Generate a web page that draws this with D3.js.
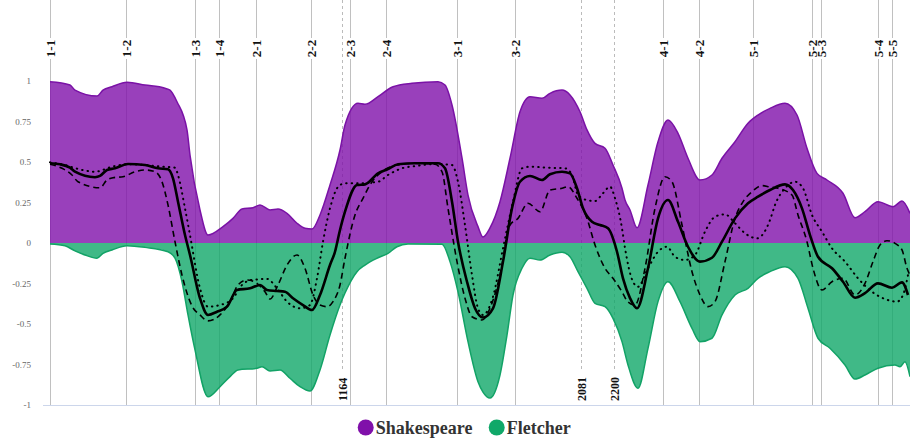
<!DOCTYPE html>
<html>
<head>
<meta charset="utf-8">
<script src="https://cdnjs.cloudflare.com/ajax/libs/d3/7.8.5/d3.min.js"></script>
<style>
  body { margin: 0; background: #fff; }
</style>
</head>
<body>
<div id="chart"></div>
<script>
//data: [position in text, value]
const shakespeare = [[0,0.995],[20,0.975],[25,0.944],[47,0.907],[53,0.944],[62,0.965],[77,0.992],[95,0.975],[115,0.955],[120,0.944],[127,0.872],[137,0.698],[140,0.543],[150,0.204],[158,0.049],[173,0.101],[183,0.152],[192,0.21],[203,0.218],[210,0.235],[220,0.204],[228,0.21],[237,0.183],[247,0.122],[255,0.091],[262,0.086],[270,0.173],[280,0.358],[290,0.574],[295,0.728],[308,0.862],[315,0.856],[328,0.903],[343,0.965],[362,0.986],[388,0.996],[395,0.975],[402,0.852],[412,0.525],[418,0.296],[428,0.101],[433,0.037],[440,0.093],[450,0.255],[460,0.523],[470,0.81],[480,0.903],[492,0.893],[500,0.924],[512,0.944],[520,0.914],[530,0.81],[537,0.698],[545,0.615],[555,0.585],[563,0.481],[572,0.338],[575,0.265],[580,0.204],[587,0.094],[598,0.358],[608,0.625],[618,0.759],[628,0.677],[638,0.523],[650,0.389],[662,0.42],[672,0.523],[685,0.625],[698,0.739],[708,0.79],[720,0.831],[735,0.862],[747,0.79],[757,0.585],[767,0.43],[777,0.389],[793,0.307],[805,0.156],[815,0.193],[828,0.255],[843,0.224],[852,0.259],[860,0.183]];

const fletcher = [[0,-0.006],[15,-0.017],[25,-0.049],[35,-0.074],[47,-0.094],[53,-0.064],[62,-0.043],[77,-0.017],[95,-0.027],[118,-0.054],[125,-0.094],[132,-0.239],[138,-0.444],[145,-0.66],[158,-0.949],[170,-0.887],[180,-0.825],[188,-0.784],[207,-0.773],[212,-0.764],[220,-0.79],[230,-0.784],[240,-0.835],[250,-0.887],[260,-0.914],[270,-0.784],[280,-0.568],[290,-0.383],[295,-0.309],[307,-0.177],[315,-0.136],[328,-0.091],[338,-0.064],[347,-0.023],[358,-0.006],[392,-0.008],[400,-0.115],[408,-0.301],[418,-0.609],[428,-0.856],[433,-0.92],[440,-0.957],[450,-0.815],[457,-0.568],[463,-0.321],[472,-0.156],[480,-0.094],[490,-0.105],[500,-0.074],[512,-0.057],[520,-0.085],[528,-0.177],[537,-0.28],[545,-0.372],[555,-0.393],[563,-0.465],[572,-0.609],[578,-0.753],[588,-0.897],[598,-0.65],[608,-0.362],[618,-0.239],[630,-0.362],[642,-0.527],[650,-0.609],[662,-0.588],[672,-0.444],[685,-0.321],[698,-0.28],[708,-0.218],[720,-0.177],[735,-0.146],[748,-0.218],[758,-0.403],[768,-0.588],[780,-0.65],[795,-0.753],[805,-0.84],[815,-0.815],[828,-0.773],[845,-0.753],[850,-0.764],[855,-0.733],[860,-0.825]];

const solid = [[0,0.492],[10,0.486],[20,0.465],[25,0.44],[45,0.406],[50,0.414],[57,0.451],[65,0.461],[78,0.488],[95,0.481],[108,0.461],[118,0.455],[123,0.399],[128,0.255],[135,0.049],[140,-0.074],[150,-0.341],[158,-0.444],[167,-0.424],[177,-0.393],[187,-0.29],[200,-0.28],[210,-0.259],[217,-0.29],[227,-0.296],[235,-0.301],[243,-0.341],[253,-0.383],[262,-0.414],[270,-0.321],[280,-0.136],[285,-0.054],[290,0.08],[295,0.193],[307,0.358],[315,0.362],[328,0.43],[338,0.457],[348,0.486],[365,0.492],[388,0.492],[395,0.461],[402,0.255],[408,0.008],[417,-0.239],[425,-0.403],[433,-0.46],[443,-0.403],[453,-0.115],[462,0.214],[470,0.378],[480,0.414],[492,0.389],[500,0.424],[512,0.44],[520,0.43],[527,0.338],[533,0.214],[542,0.131],[550,0.111],[558,0.091],[567,-0.054],[573,-0.218],[580,-0.34],[587,-0.403],[598,-0.156],[608,0.152],[618,0.265],[628,0.131],[638,-0.023],[650,-0.115],[662,-0.091],[672,0.008],[685,0.152],[698,0.245],[708,0.286],[720,0.327],[735,0.362],[743,0.327],[752,0.214],[760,0.049],[768,-0.085],[782,-0.156],[793,-0.239],[805,-0.338],[815,-0.31],[828,-0.249],[842,-0.276],[852,-0.243],[858,-0.321]];

const dashed = [[0,0.486],[12,0.461],[22,0.42],[28,0.378],[50,0.341],[57,0.389],[63,0.403],[73,0.409],[85,0.44],[95,0.451],[105,0.44],[112,0.378],[118,0.235],[125,0.008],[132,-0.198],[142,-0.389],[150,-0.444],[158,-0.481],[170,-0.444],[180,-0.362],[188,-0.259],[197,-0.228],[207,-0.249],[215,-0.301],[220,-0.346],[228,-0.259],[237,-0.136],[247,-0.074],[255,-0.156],[263,-0.321],[270,-0.383],[277,-0.393],[283,-0.362],[290,-0.259],[295,-0.094],[305,0.173],[313,0.276],[322,0.378],[332,0.44],[347,0.481],[365,0.492],[385,0.486],[392,0.44],[398,0.214],[407,-0.115],[415,-0.341],[422,-0.455],[432,-0.475],[440,-0.403],[450,-0.198],[460,0.111],[468,0.152],[478,0.245],[490,0.193],[500,0.327],[512,0.338],[518,0.348],[527,0.276],[537,0.152],[545,-0.012],[555,-0.156],[563,-0.218],[572,-0.301],[578,-0.364],[585,-0.383],[595,-0.156],[605,0.214],[615,0.409],[622,0.378],[632,0.111],[642,-0.177],[650,-0.321],[658,-0.393],[665,-0.362],[675,-0.115],[685,0.152],[692,0.245],[702,0.317],[712,0.354],[720,0.346],[728,0.338],[742,0.296],[748,0.173],[757,0.008],[763,-0.156],[772,-0.29],[782,-0.239],[793,-0.218],[805,-0.321],[815,-0.249],[823,-0.115],[830,-0.012],[837,0.014],[845,-0.002],[852,-0.043],[857,-0.156],[860,-0.198]];

const dotted = [[0,0.498],[15,0.481],[28,0.457],[45,0.44],[62,0.471],[78,0.486],[95,0.481],[112,0.471],[125,0.465],[128,0.42],[135,0.214],[140,0.049],[150,-0.28],[158,-0.393],[170,-0.383],[183,-0.341],[192,-0.259],[202,-0.228],[217,-0.222],[227,-0.28],[237,-0.362],[250,-0.403],[260,-0.383],[267,-0.218],[273,0.008],[280,0.214],[288,0.346],[295,0.369],[308,0.369],[328,0.378],[338,0.42],[352,0.461],[368,0.477],[385,0.488],[402,0.481],[408,0.378],[415,0.111],[422,-0.198],[428,-0.403],[433,-0.444],[443,-0.331],[453,-0.033],[463,0.255],[472,0.461],[480,0.471],[497,0.465],[515,0.461],[522,0.42],[528,0.296],[537,0.265],[545,0.259],[553,0.307],[560,0.348],[565,0.276],[572,0.091],[575,-0.031],[583,-0.239],[588,-0.27],[598,-0.156],[608,-0.054],[617,-0.023],[625,-0.085],[635,-0.105],[645,-0.074],[655,0.07],[665,0.162],[675,0.177],[685,0.122],[695,0.06],[707,0.029],[715,0.074],[720,0.142],[725,0.235],[735,0.338],[745,0.378],[753,0.338],[762,0.173],[772,0.07],[782,-0.033],[795,-0.115],[808,-0.218],[822,-0.301],[835,-0.346],[847,-0.362],[853,-0.321],[858,-0.198]];

//scenes and marked lines
const sceneNames = ['1-1','1-2','1-3','1-4','2-1','2-2','2-3','2-4','3-1','3-2','4-1','4-2','5-1','5-2','5-3','5-4','5-5'];
const scenePos = [0.3,76.3,144.7,169,205.7,261.3,300.3,336,407.3,465,612.7,649.3,703.3,762,771.3,828.3,841.7];
const markNames = ['1164','2081','2200'];
const markPos = [292,530.5,564.3];
const yTicks = [1,0.75,0.5,0.25,0,-0.25,-0.5,-0.75,-1];

//set variables
const w = 910;
const h = 442;
const plotLeft = 50;
const plotRight = 910;
const plotTop = 81;
const plotBottom = 405;

const purple = '#8010aa';
const green = '#10a869';

const xScale = d3.scaleLinear().domain([0, 860]).range([plotLeft, plotRight]);
const yScale = d3.scaleLinear().domain([-1, 1]).range([plotBottom, plotTop]);

const svg = d3.select('#chart')
    .append('svg')
    .attr('width', w)
    .attr('height', h)
    .style('font-family', '"Liberation Serif", serif');

//y axis labels and bottom line
const yAxis = d3.axisLeft(yScale).tickValues(yTicks).tickSize(0).tickPadding(0)
    .tickFormat(d => d === 0 ? '0' : String(d));
const ya = svg.append('g')
    .attr('transform', 'translate(31,0)')
    .call(yAxis);
ya.select('.domain').remove();
ya.selectAll('text')
    .style('font-family', '"Liberation Serif", serif')
    .style('font-size', '9px')
    .attr('fill', '#666');

svg.append('line')
    .attr('x1', 43).attr('x2', plotRight)
    .attr('y1', plotBottom + 0.5).attr('y2', plotBottom + 0.5)
    .attr('stroke', '#ccd6eb');

//scene lines
scenePos.forEach((p, i) => {
    const x = Math.round(xScale(p)) + 0.5;
    svg.append('line').attr('x1', x).attr('x2', x).attr('y1', 0).attr('y2', 38)
        .attr('stroke', '#c0c0c0');
    svg.append('line').attr('x1', x).attr('x2', x).attr('y1', 59).attr('y2', plotBottom)
        .attr('stroke', '#c0c0c0');
    svg.append('text')
        .attr('transform', `translate(${x + 4.5},48.5) rotate(-90)`)
        .attr('text-anchor', 'middle')
        .style('font-size', '13px')
        .style('font-weight', 'bold')
        .attr('fill', '#111')
        .text(sceneNames[i]);
});

//marked line numbers
markPos.forEach((p, i) => {
    const x = Math.round(xScale(p)) + 0.5;
    svg.append('line').attr('x1', x).attr('x2', x).attr('y1', 0).attr('y2', 372)
        .attr('stroke', '#bbb')
        .attr('stroke-dasharray', '3,3');
    svg.append('text')
        .attr('transform', `translate(${x + 4},401) rotate(-90)`)
        .attr('text-anchor', 'start')
        .style('font-size', '12px')
        .style('font-weight', 'bold')
        .attr('fill', '#111')
        .text(markNames[i]);
});

//areas
const area = d3.area().x(d => xScale(d[0])).y0(yScale(0)).y1(d => yScale(d[1])).curve(d3.curveMonotoneX);
const edge = d3.line().x(d => xScale(d[0])).y(d => yScale(d[1])).curve(d3.curveMonotoneX);

svg.append('path').datum(shakespeare).attr('d', area)
    .attr('fill', purple).attr('fill-opacity', 0.8);
svg.append('path').datum(fletcher).attr('d', area)
    .attr('fill', green).attr('fill-opacity', 0.8);
svg.append('path').datum(shakespeare).attr('d', edge)
    .attr('fill', 'none').attr('stroke', '#7a12a6').attr('stroke-width', 1.5);
svg.append('path').datum(fletcher).attr('d', edge)
    .attr('fill', 'none').attr('stroke', '#12a266').attr('stroke-width', 1.5);

//black lines
svg.append('path').datum(dotted).attr('d', edge)
    .attr('fill', 'none').attr('stroke', '#000').attr('stroke-width', 2)
    .attr('stroke-linecap', 'round').attr('stroke-dasharray', '0.5,5');
svg.append('path').datum(dashed).attr('d', edge)
    .attr('fill', 'none').attr('stroke', '#000').attr('stroke-width', 1.6)
    .attr('stroke-dasharray', '6,4');
svg.append('path').datum(solid).attr('d', edge)
    .attr('fill', 'none').attr('stroke', '#000').attr('stroke-width', 2.6)
    .attr('stroke-linejoin', 'round');

//legend
const legend = [['Shakespeare', purple, 365.7], ['Fletcher', green, 496.7]];
legend.forEach(l => {
    svg.append('circle').attr('cx', l[2]).attr('cy', 427.5).attr('r', 8).attr('fill', l[1]);
    svg.append('text')
        .attr('x', l[2] + 10).attr('y', 434)
        .style('font-size', '18px')
        .style('font-weight', 'bold')
        .attr('fill', '#333')
        .text(l[0]);
});
</script>
</body>
</html>
